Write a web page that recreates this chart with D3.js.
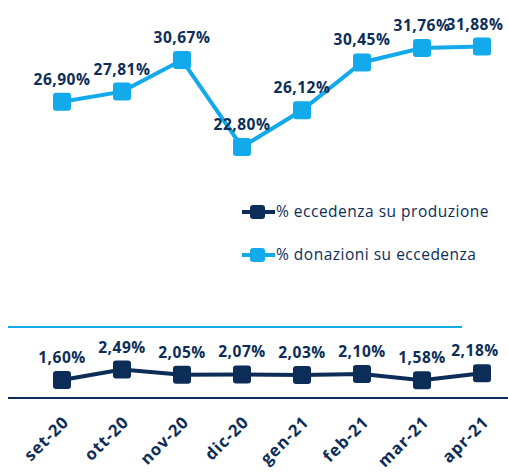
<!DOCTYPE html>
<html>
<head>
<meta charset="utf-8">
<script src="https://cdn.jsdelivr.net/npm/d3@7"></script>
<style>
  body { margin: 0; background: #fff; }
  svg { font-family: "Open Sans", sans-serif; }
</style>
</head>
<body>
<div id="chart"></div>
<script>
const months = ["set-20", "ott-20", "nov-20", "dic-20", "gen-21", "feb-21", "mar-21", "apr-21"];
const donazioni = [26.90, 27.81, 30.67, 22.80, 26.12, 30.45, 31.76, 31.88];
const eccedenza = [1.60, 2.49, 2.05, 2.07, 2.03, 2.10, 1.58, 2.18];
const legendNames = ["% eccedenza su produzione", "% donazioni su eccedenza"];

const W = 508, H = 472;
const navy = "#0b2d58";
const blue = "#12aaea";

const svg = d3.select("#chart").append("svg")
    .attr("width", W)
    .attr("height", H);

const x = d3.scalePoint()
    .domain(months)
    .range([62, 482]);

// top panel: donazioni
const yTop = d3.scaleLinear()
    .domain([22.8, 30.67])
    .range([147, 60]);

// bottom panel: eccedenza
const yBot = d3.scaleLinear()
    .domain([1.6, 2.49])
    .range([380, 369.5]);

const fmt = v => d3.format(".2f")(v).replace(".", ",") + "%";

// separator lines
svg.append("line")
    .attr("x1", 8).attr("x2", 462)
    .attr("y1", 327).attr("y2", 327)
    .attr("stroke", blue).attr("stroke-width", 2);

svg.append("line")
    .attr("x1", 8).attr("x2", W)
    .attr("y1", 398).attr("y2", 398)
    .attr("stroke", navy).attr("stroke-width", 2);

function drawSeries(values, y, color, labelOffset) {
  const g = svg.append("g");
  const line = d3.line()
      .x((d, i) => x(months[i]))
      .y(d => y(d));
  g.append("path")
      .datum(values)
      .attr("fill", "none")
      .attr("stroke", color)
      .attr("stroke-width", 4)
      .attr("d", line);
  g.selectAll("rect")
      .data(values)
      .join("rect")
      .attr("x", (d, i) => x(months[i]) - 9)
      .attr("y", d => y(d) - 9)
      .attr("width", 18)
      .attr("height", 18)
      .attr("rx", 3)
      .attr("fill", color);
  g.selectAll("text")
      .data(values)
      .join("text")
      .attr("x", (d, i) => Math.min(x(months[i]), W - 33))
      .attr("y", d => y(d) - labelOffset)
      .attr("text-anchor", "middle")
      .attr("font-size", 15.5)
      .attr("font-weight", 700)
      .attr("letter-spacing", 0.5)
      .attr("fill", navy)
      .text(d => fmt(d));
}

drawSeries(donazioni, yTop, blue, 17);
drawSeries(eccedenza, yBot, navy, 17);

// x labels
svg.append("g")
    .selectAll("text")
    .data(months)
    .join("text")
    .attr("transform", d => `translate(${x(d) + 8},${423}) rotate(-45)`)
    .attr("text-anchor", "end")
    .attr("font-size", 16.5)
    .attr("font-weight", 700)
    .attr("letter-spacing", 1)
    .attr("fill", navy)
    .text(d => d);

// legend
const legend = svg.append("g");
const legendColors = [navy, blue];
legendNames.forEach((name, i) => {
  const ly = 212 + i * 43;
  legend.append("line")
      .attr("x1", 242).attr("x2", 275)
      .attr("y1", ly).attr("y2", ly)
      .attr("stroke", legendColors[i]).attr("stroke-width", 4);
  legend.append("rect")
      .attr("x", 250).attr("y", ly - 7)
      .attr("width", 15).attr("height", 14)
      .attr("rx", 3)
      .attr("fill", legendColors[i]);
  legend.append("text")
      .attr("x", 276)
      .attr("y", ly + 5)
      .attr("font-size", 15.5)
      .attr("letter-spacing", 0.5)
      .attr("fill", navy)
      .text(name);
});
</script>
</body>
</html>
